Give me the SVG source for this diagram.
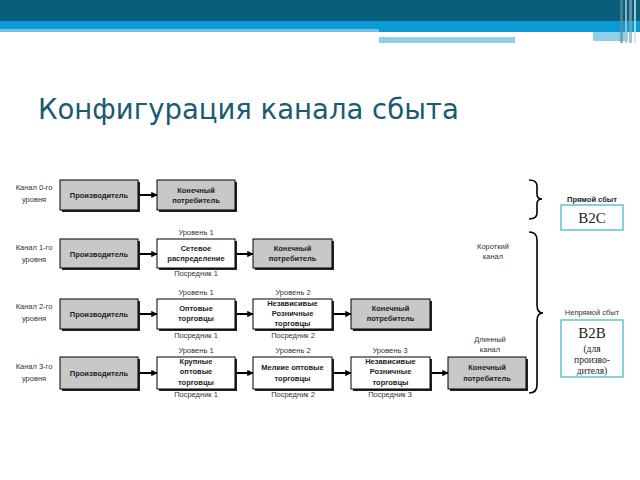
<svg xmlns="http://www.w3.org/2000/svg" width="640" height="480" viewBox="0 0 640 480">
<defs>
<style>
.box{stroke:#000;stroke-width:1}
.g{fill:#c8c8c8}
.w{fill:#fff}
.sh{fill:#222}
.bt{font-family:"Liberation Sans",Arial,sans-serif;font-size:7.5px;font-weight:bold;fill:#222;text-anchor:middle}
.lt{font-family:"Liberation Sans",Arial,sans-serif;font-size:7.5px;fill:#333;text-anchor:middle}
.conn{stroke:#000;stroke-width:2;fill:none}
.brace{stroke:#000;stroke-width:1.6;fill:none}
.sb{font-family:"Liberation Serif","Times New Roman",serif;fill:#222;text-anchor:middle}
.tb{fill:#fff;stroke:#5cc5d0;stroke-width:1.5}
</style>
<marker id="ah" viewBox="0 0 10 10" refX="9" refY="5" markerWidth="3.2" markerHeight="3.2" orient="auto" markerUnits="strokeWidth">
<path d="M0,0 L10,5 L0,10 z" fill="#000"/>
</marker>
</defs>
<rect width="640" height="480" fill="#fff"/>
<!-- header -->
<g id="header">
<rect x="0" y="0" width="640" height="21" fill="#0a5e79"/>
<rect x="0" y="21" width="640" height="11" fill="#0a9ad5"/>
<rect x="0" y="29" width="379" height="3" fill="#6cc3e8"/>
<rect x="379" y="33" width="214" height="3" fill="#ffffff"/>
<rect x="379" y="37" width="136" height="6" fill="#8ed0ea"/>
<rect x="593" y="32" width="35" height="9" fill="#8ed0ea"/>
<rect x="620" y="0" width="3" height="43" fill="#5c8ea0" opacity="0.7"/>
<rect x="625" y="0" width="2" height="43" fill="#a7c9d5" opacity="0.8"/>
<rect x="629" y="0" width="3" height="43" fill="#7fa9b8" opacity="0.7"/>
<rect x="634" y="0" width="2" height="43" fill="#c8dde5" opacity="0.8"/>
</g>
<text x="38" y="119" font-family="'DejaVu Sans',Verdana,sans-serif" font-size="27.5" fill="#1a5a73">Конфигурация канала сбыта</text>

<!-- connectors -->
<g id="connectors">
<line class="conn" x1="138" y1="195" x2="157" y2="195" marker-end="url(#ah)"/>
<line class="conn" x1="138" y1="254" x2="157" y2="254" marker-end="url(#ah)"/>
<line class="conn" x1="235" y1="254" x2="253" y2="254" marker-end="url(#ah)"/>
<line class="conn" x1="138" y1="314" x2="157" y2="314" marker-end="url(#ah)"/>
<line class="conn" x1="235" y1="314" x2="253" y2="314" marker-end="url(#ah)"/>
<line class="conn" x1="332" y1="314" x2="351" y2="314" marker-end="url(#ah)"/>
<line class="conn" x1="138" y1="373" x2="157" y2="373" marker-end="url(#ah)"/>
<line class="conn" x1="235" y1="373" x2="253" y2="373" marker-end="url(#ah)"/>
<line class="conn" x1="332" y1="373" x2="351" y2="373" marker-end="url(#ah)"/>
<line class="conn" x1="430" y1="373" x2="448" y2="373" marker-end="url(#ah)"/>
<path class="brace" d="M529,180 Q537,180 537,186 L537,194 Q537,199 542,199 Q537,199 537,204 L537,213 Q537,219 529,219"/>
<path class="brace" d="M529,232 Q537,232 537,240 L537,305 Q537,313 543,313 Q537,313 537,321 L537,385 Q537,393 529,393"/>
</g>

<!-- row labels -->
<g id="labels">
<text class="lt" x="34" y="190">Канал 0-го</text><text class="lt" x="34" y="202">уровня</text>
<text class="lt" x="34" y="250">Канал 1-го</text><text class="lt" x="34" y="262">уровня</text>
<text class="lt" x="34" y="309">Канал 2-го</text><text class="lt" x="34" y="321">уровня</text>
<text class="lt" x="34" y="369">Канал 3-го</text><text class="lt" x="34" y="381">уровня</text>
<text class="lt" x="196" y="235">Уровень 1</text><text class="lt" x="196" y="276">Посредник 1</text>
<text class="lt" x="196" y="295">Уровень 1</text><text class="lt" x="196" y="338">Посредник 1</text>
<text class="lt" x="293" y="295">Уровень 2</text><text class="lt" x="293" y="338">Посредник 2</text>
<text class="lt" x="196" y="353">Уровень 1</text><text class="lt" x="196" y="397">Посредник 1</text>
<text class="lt" x="293" y="353">Уровень 2</text><text class="lt" x="293" y="397">Посредник 2</text>
<text class="lt" x="390" y="353">Уровень 3</text><text class="lt" x="390" y="397">Посредник 3</text>
<text class="lt" x="493" y="249">Короткий</text><text class="lt" x="493" y="259">канал</text>
<text class="lt" x="490" y="342">Длинный</text><text class="lt" x="490" y="352">канал</text>
</g>

<!-- row 1 -->
<g id="r1-producer"><rect class="sh" x="62" y="182" width="78" height="30"/><rect class="box g" x="60" y="180" width="78" height="30"/><text class="bt" x="99" y="198">Производитель</text></g>
<g id="r1-consumer"><rect class="sh" x="159" y="182" width="78" height="30"/><rect class="box g" x="157" y="180" width="78" height="30"/><text class="bt" x="196" y="193">Конечный</text><text class="bt" x="196" y="203">потребитель</text></g>

<!-- row 2 -->
<g id="r2-producer"><rect class="sh" x="62" y="241" width="78" height="29"/><rect class="box g" x="60" y="239" width="78" height="29"/><text class="bt" x="99" y="257">Производитель</text></g>
<g id="r2-network"><rect class="sh" x="159" y="241" width="78" height="29"/><rect class="box w" x="157" y="239" width="78" height="29"/><text class="bt" x="196" y="251">Сетевое</text><text class="bt" x="196" y="261">распределение</text></g>
<g id="r2-consumer"><rect class="sh" x="255" y="241" width="79" height="29"/><rect class="box g" x="253" y="239" width="79" height="29"/><text class="bt" x="292.5" y="251">Конечный</text><text class="bt" x="292.5" y="261">потребитель</text></g>

<!-- row 3 -->
<g id="r3-producer"><rect class="sh" x="62" y="301" width="78" height="30"/><rect class="box g" x="60" y="299" width="78" height="30"/><text class="bt" x="99" y="317">Производитель</text></g>
<g id="r3-wholesale"><rect class="sh" x="159" y="301" width="78" height="30"/><rect class="box w" x="157" y="299" width="78" height="30"/><text class="bt" x="196" y="311">Оптовые</text><text class="bt" x="196" y="321">торговцы</text></g>
<g id="r3-retail"><rect class="sh" x="255" y="301" width="79" height="30"/><rect class="box w" x="253" y="299" width="79" height="30"/><text class="bt" x="292.5" y="306">Независивые</text><text class="bt" x="292.5" y="316">Розничные</text><text class="bt" x="292.5" y="326">торговцы</text></g>
<g id="r3-consumer"><rect class="sh" x="353" y="301" width="79" height="30"/><rect class="box g" x="351" y="299" width="79" height="30"/><text class="bt" x="390.5" y="311">Конечный</text><text class="bt" x="390.5" y="321">потребитель</text></g>

<!-- row 4 -->
<g id="r4-producer"><rect class="sh" x="62" y="359" width="78" height="32"/><rect class="box g" x="60" y="357" width="78" height="32"/><text class="bt" x="99" y="376">Производитель</text></g>
<g id="r4-large"><rect class="sh" x="159" y="359" width="78" height="32"/><rect class="box w" x="157" y="357" width="78" height="32"/><text class="bt" x="196" y="364">Крупные</text><text class="bt" x="196" y="374">оптовые</text><text class="bt" x="196" y="385">торговцы</text></g>
<g id="r4-small"><rect class="sh" x="255" y="359" width="79" height="32"/><rect class="box w" x="253" y="357" width="79" height="32"/><text class="bt" x="292.5" y="370">Мелкие оптовые</text><text class="bt" x="292.5" y="381">торговцы</text></g>
<g id="r4-retail"><rect class="sh" x="353" y="359" width="79" height="32"/><rect class="box w" x="351" y="357" width="79" height="32"/><text class="bt" x="390.5" y="364">Независивые</text><text class="bt" x="390.5" y="374">Розничные</text><text class="bt" x="390.5" y="385">торговцы</text></g>
<g id="r4-consumer"><rect class="sh" x="450" y="359" width="78" height="32"/><rect class="box g" x="448" y="357" width="78" height="32"/><text class="bt" x="487" y="370">Конечный</text><text class="bt" x="487" y="381">потребитель</text></g>

<!-- right side -->
<g id="direct">
<text class="bt" x="592" y="202" font-size="9">Прямой сбыт</text>
<rect class="tb" x="561" y="205" width="62" height="25"/>
<text class="sb" x="592" y="223" font-size="15">B2C</text>
</g>
<g id="indirect">
<text class="lt" x="592" y="315" font-size="9" fill="#111">Непрямой сбыт</text>
<rect class="tb" x="561" y="320" width="62" height="57"/>
<text class="sb" x="592" y="338" font-size="15">B2B</text>
<text class="sb" x="592" y="352" font-size="9.5">(для</text>
<text class="sb" x="592" y="363" font-size="9.5">произво-</text>
<text class="sb" x="592" y="374" font-size="9.5">дителя)</text>
</g>
</svg>
